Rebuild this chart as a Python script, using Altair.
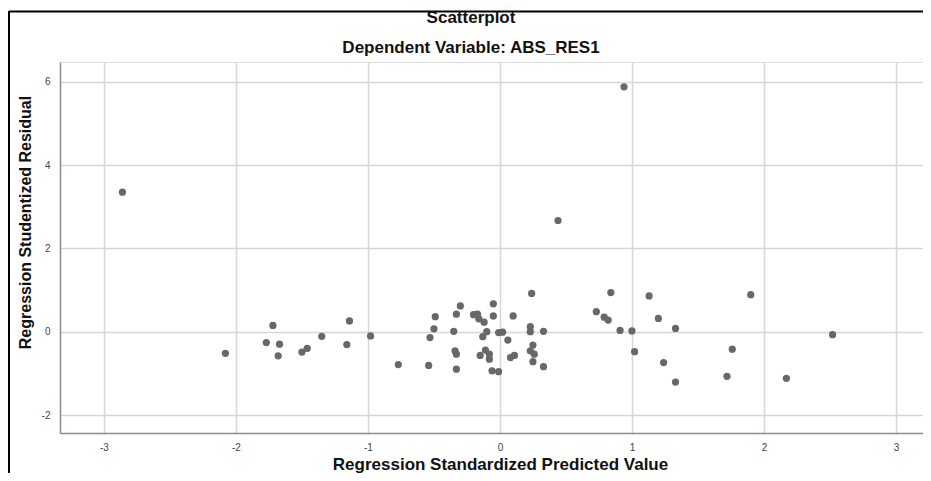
import altair as alt
import pandas as pd

# Regression Standardized Predicted Value (x) and Regression Studentized Residual (y)
pred = [
    -2.86, -2.08, -1.72, -1.77, -1.67, -1.68, -1.50, -1.46, -1.35, -1.14, -1.16, -0.98, -0.77,
    -0.54, -0.53, -0.50, -0.49, -0.35, -0.33, -0.30, -0.34, -0.33, -0.33, -0.20, -0.17, -0.16,
    -0.12, -0.05, -0.05, -0.10, -0.13, -0.11, -0.15, -0.08, -0.08, -0.06, -0.01, -0.01, 0.02,
    0.06, 0.10, 0.08, 0.11, 0.24, 0.23, 0.23, 0.33, 0.25, 0.23, 0.26, 0.25, 0.33, 0.44, 0.94,
    0.73, 0.79, 0.82, 0.84, 1.13, 1.90, 1.20, 0.91, 1.00, 1.33, 2.52, 1.02, 1.76, 1.24, 1.33,
    1.72, 2.17,
]
resid = [
    3.35, -0.52, 0.15, -0.26, -0.30, -0.58, -0.49, -0.40, -0.11, 0.26, -0.31, -0.10, -0.79,
    -0.81, -0.14, 0.07, 0.36, 0.01, 0.42, 0.62, -0.46, -0.54, -0.90, 0.41, 0.42, 0.31,
    0.23, 0.67, 0.38, 0.00, -0.12, -0.44, -0.57, -0.54, -0.66, -0.94, -0.96, -0.02, -0.01,
    -0.20, 0.38, -0.62, -0.57, 0.92, 0.12, 0.00, 0.01, -0.32, -0.46, -0.54, -0.72, -0.84, 2.67, 5.88,
    0.48, 0.35, 0.28, 0.94, 0.86, 0.89, 0.32, 0.03, 0.02, 0.08, -0.07, -0.48, -0.42, -0.74, -1.21,
    -1.07, -1.12,
]
x_ticks = [-3, -2, -1, 0, 1, 2, 3]
y_ticks = [-2, 0, 2, 4, 6]
title_lines = ["Scatterplot", "Dependent Variable: ABS_RES1"]

df = pd.DataFrame({"pred": pred, "resid": resid})

FONT = "Liberation Sans"
W, H = 863, 371

points = alt.Chart(df).mark_circle(size=52, color="#686868", opacity=1).encode(
    x=alt.X(
        "pred:Q",
        scale=alt.Scale(domain=[-3.333, 3.205], nice=False, zero=False),
        axis=alt.Axis(
            values=x_ticks,
            labelExpr="'' + datum.value",
            title="Regression Standardized Predicted Value",
            titleFont=FONT, titleFontSize=17, titleFontWeight="bold", titleColor="#111",
            titleX=440, titleY=36, titleBaseline="alphabetic", titleAnchor="middle",
            labelFont=FONT, labelFontSize=10, labelColor="#444", labelPadding=9,
            ticks=False, tickSize=0,
            domainColor="#8c8c8c", domainWidth=1.5,
            gridColor="#d6d6d6", gridWidth=1.5,
        ),
    ),
    y=alt.Y(
        "resid:Q",
        scale=alt.Scale(domain=[-2.432, 6.476], nice=False, zero=False),
        axis=alt.Axis(
            values=y_ticks,
            labelExpr="'' + datum.value",
            title="Regression Studentized Residual",
            titleFont=FONT, titleFontSize=16, titleFontWeight="bold", titleColor="#111",
            titleX=-35, titleY=160, titleBaseline="middle", titleAngle=270,
            labelFont=FONT, labelFontSize=10, labelColor="#444", labelPadding=10,
            ticks=False, tickSize=0,
            domainColor="#8c8c8c", domainWidth=1.5,
            gridColor="#d6d6d6", gridWidth=1.5,
        ),
    ),
)

one = alt.Data(values=[{"k": 1}])
frame = alt.Chart(one).mark_rule(color="black", strokeWidth=2)
top_border = frame.encode(x=alt.value(-51), x2=alt.value(880), y=alt.value(-50.5))
left_border = frame.encode(x=alt.value(-51), y=alt.value(-51), y2=alt.value(430))

title_text = alt.Chart(one).mark_text(
    font=FONT, fontSize=17, fontWeight="bold", color="#111", align="center", baseline="alphabetic"
)
title1 = title_text.encode(x=alt.value(411), y=alt.value(-39), text=alt.value(title_lines[0]))
title2 = title_text.encode(x=alt.value(411), y=alt.value(-9), text=alt.value(title_lines[1]))

chart = alt.layer(points, top_border, left_border, title1, title2).properties(
    width=W,
    height=H,
    autosize="none",
    padding={"left": 52, "top": 54, "right": 0, "bottom": 40},
).configure_view(stroke=None).configure(background="white")

chart.save("out.html", embed_options={"renderer": "svg", "actions": False})
